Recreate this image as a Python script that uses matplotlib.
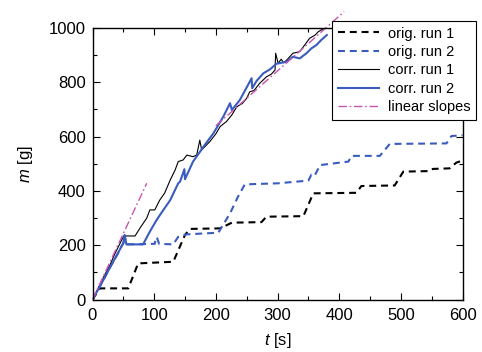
import matplotlib.pyplot as plt
import numpy as np

plt.rcParams['font.family'] = ['Liberation Sans', 'DejaVu Sans']
plt.rcParams['mathtext.fontset'] = 'custom'
plt.rcParams['mathtext.it'] = 'Liberation Sans:italic'
plt.rcParams['lines.scale_dashes'] = False

# datos
orig1_t = [0, 12, 58, 74, 131, 150, 158, 207, 226, 274, 282, 342, 358, 428, 436, 490, 504, 547, 552, 579, 590, 600]
orig1_m = [0, 41, 41, 133, 139, 238, 260, 262, 283, 285, 305, 307, 391, 393, 418, 420, 471, 473, 481, 483, 504, 512]

orig2_t = [0, 10, 20, 30, 40, 48, 50, 52, 55, 101, 103, 105, 108, 131, 139, 153, 204, 223, 236, 247,
           301, 350, 355, 360, 369, 415, 420, 466, 482, 574, 582, 600]
orig2_m = [0, 40, 82, 125, 165, 200, 207, 237, 203, 205, 230, 225, 205, 203, 231, 240, 246, 317, 379, 424,
           428, 438, 460, 455, 495, 508, 529, 529, 573, 575, 602, 605]

corr1_t = [0, 5, 12, 20, 28, 35, 42, 50, 55, 69, 77, 88, 93, 101, 109, 117, 126, 134, 139, 147, 153, 163,
           169, 174, 177, 190, 200, 207, 217, 226, 234, 243, 250, 255, 262, 271, 282, 290, 296, 297, 301,
           306, 310, 315, 325, 336, 344, 352, 361, 366, 371, 377, 382]
corr1_m = [0, 22, 55, 92, 125, 162, 195, 231, 234, 234, 263, 300, 330, 330, 366, 392, 440, 477, 508, 514,
           532, 526, 532, 587, 551, 581, 610, 637, 655, 680, 710, 722, 741, 765, 770, 796, 820, 830, 845,
           907, 870, 885, 872, 882, 907, 913, 937, 962, 974, 986, 993, 999, 1000]

corr2_t = [0, 10, 20, 30, 40, 48, 50, 52, 55, 82, 93, 104, 115, 126, 139, 142, 149, 150, 163, 170, 180,
           196, 212, 223, 226, 239, 255, 258, 259, 266, 277, 288, 298, 315, 325, 336, 347, 355, 363, 371,
           377, 380]
corr2_m = [0, 40, 82, 125, 165, 200, 207, 237, 203, 203, 250, 293, 330, 366, 428, 434, 480, 443, 508, 530,
           563, 612, 673, 723, 698, 735, 802, 815, 778, 805, 833, 848, 868, 876, 894, 888, 907, 925, 937,
           956, 968, 974]

slope_t = [0, 88, np.nan, 200, 408]
slope_m = [0, 428, np.nan, 640, 1060]

azul = '#3a5cbf'
magenta = '#c953b4'

fig = plt.figure(figsize=(4.82, 3.52), dpi=100)
ax = fig.add_axes([92.5 / 482, 1 - 299.5 / 352, 370 / 482, 271.5 / 352])

ax.plot(orig1_t, orig1_m, color='black', lw=1.5, dashes=(5, 3.5), label='orig. run 1')
ax.plot(orig2_t, orig2_m, color=azul, lw=1.5, dashes=(5, 3.5), label='orig. run 2')
ax.plot(corr1_t, corr1_m, color='black', lw=0.8, label='corr. run 1')
ax.plot(corr2_t, corr2_m, color=azul, lw=1.5, label='corr. run 2')
ax.plot(slope_t, slope_m, color=magenta, lw=1.0, dashes=(6, 2, 1.2, 2), label='linear slopes',
        clip_on=False)

ax.set_xlim(0, 600)
ax.set_ylim(0, 1000)
ax.set_xticks(np.arange(0, 601, 100))
ax.set_xticks(np.arange(0, 601, 50), minor=True)
ax.set_yticks(np.arange(0, 1001, 200))
ax.set_yticks(np.arange(0, 1001, 100), minor=True)
ax.tick_params(which='both', direction='in', top=True, right=True, labelsize=12)
ax.tick_params(axis='x', which='major', length=5, width=0.8, pad=6)
ax.tick_params(axis='y', which='major', length=5, width=0.8, pad=5)
ax.tick_params(which='minor', length=3, width=0.8)
for s in ax.spines.values():
    s.set_linewidth(1.0)

ax.set_xlabel('$t$ [s]', fontsize=12, labelpad=6)
ax.set_ylabel('$m$ [g]', fontsize=12, labelpad=10)

leg = ax.legend(loc='upper right', bbox_to_anchor=(476 / 482, 1 - 20.7 / 352),
                bbox_transform=fig.transFigure, borderaxespad=0, fontsize=10.5,
                frameon=True, fancybox=False, framealpha=1, edgecolor='black',
                handlelength=2.8, handletextpad=0.6, labelspacing=0.3, borderpad=0.4)
leg.get_frame().set_linewidth(0.8)
leg.set_zorder(5)

plt.savefig('out.png', dpi=100)
